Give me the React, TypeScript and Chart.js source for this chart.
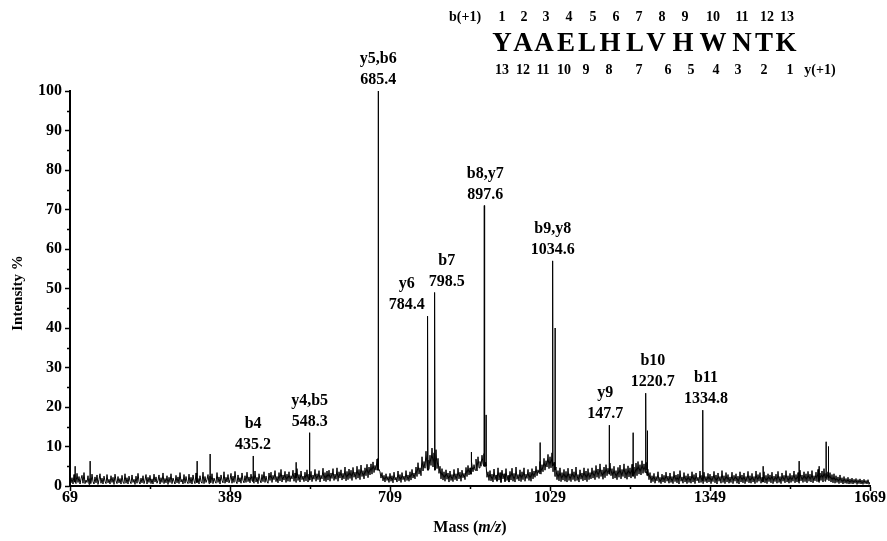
import React, { useEffect, useRef } from "react";
import { Chart, registerables } from "chart.js";

Chart.register(...registerables);

// ---------- data ----------
const START_MZ = 69;
const STEP_MZ = 2;

// baseline / noise trace, one value every STEP_MZ from START_MZ (each row = 40 m/z)
const noise = [
  3.6, 0.8, 2.1, 0.5, 2.9, 1.4, 0.6, 3.2, 0.9, 2.4, 0.5, 1.8, 2.7, 0.7, 3.4, 0.6, 1.5, 0.9, 2.6, 0.4,
  1.9, 0.6, 3.0, 1.1, 0.5, 2.3, 0.8, 2.8, 0.4, 1.6, 3.1, 0.7, 2.0, 0.5, 2.5, 1.2, 0.6, 2.9, 0.8, 1.7,
  0.5, 2.6, 0.9, 2.2, 0.4, 3.0, 1.3, 0.6, 2.4, 0.8, 1.9, 0.5, 2.7, 1.0, 0.6, 3.1, 0.7, 2.1, 0.5, 2.5,
  1.2, 0.6, 2.8, 0.9, 1.7, 0.4, 2.5, 0.7, 3.2, 1.1, 0.5, 2.0, 0.8, 2.6, 0.6, 1.5, 2.9, 0.5, 2.2, 0.9,
  2.7, 0.6, 1.8, 0.5, 3.0, 1.0, 2.3, 0.7, 1.4, 2.8, 0.5, 2.1, 0.9, 3.3, 0.6, 1.9, 0.8, 2.6, 0.4, 2.2,
  0.9, 3.1, 0.6, 2.0, 1.2, 0.5, 2.7, 0.8, 2.3, 0.6, 3.4, 1.0, 1.7, 0.5, 2.9, 0.7, 2.4, 1.1, 0.6, 3.0,
  0.7, 2.2, 0.5, 2.8, 1.3, 0.6, 3.3, 0.9, 1.9, 0.5, 2.6, 1.1, 0.7, 3.5, 0.6, 2.4, 0.9, 1.6, 2.9, 0.6,
  2.5, 0.8, 3.1, 0.6, 2.0, 1.2, 0.7, 3.4, 0.9, 2.3, 0.5, 2.8, 1.4, 0.8, 3.6, 0.7, 2.2, 1.0, 2.9, 0.8,
  1.6, 3.2, 0.7, 2.5, 0.9, 3.7, 1.2, 0.6, 2.8, 1.0, 2.1, 0.7, 3.3, 1.4, 0.8, 2.6, 0.9, 3.5, 1.1, 2.3,
  0.8, 3.0, 1.3, 2.4, 0.7, 3.8, 1.0, 2.2, 0.6, 3.1, 1.5, 0.8, 2.9, 1.1, 3.6, 0.9, 2.5, 1.2, 0.7, 3.3,
  1.4, 3.5, 0.9, 2.7, 1.6, 3.9, 1.1, 2.4, 0.8, 3.4, 1.3, 4.2, 1.0, 2.8, 1.5, 3.7, 0.9, 3.0, 1.2, 3.6,
  1.1, 2.6, 1.8, 4.0, 1.2, 3.3, 0.9, 4.4, 1.4, 2.9, 1.0, 3.8, 1.6, 2.5, 1.1, 3.5, 1.3, 4.1, 1.0, 3.0,
  1.5, 3.7, 1.1, 2.8, 1.7, 4.2, 1.2, 3.1, 1.6, 3.9, 1.0, 2.7, 1.8, 4.5, 1.3, 3.4, 1.1, 3.8, 1.5, 4.0,
  1.2, 3.3, 1.9, 4.4, 1.4, 3.0, 1.7, 4.6, 1.2, 3.6, 2.0, 4.1, 1.5, 3.2, 1.8, 4.8, 1.3, 3.7, 1.6, 4.3,
  1.9, 4.0, 1.4, 4.7, 2.2, 3.5, 1.7, 5.0, 2.0, 4.2, 1.6, 5.3, 2.4, 3.9, 1.8, 4.6, 2.6, 5.5, 2.1, 4.8,
  2.8, 5.6, 3.0, 6.1, 3.4, 5.2, 4.0, 6.8, 7.0, 4.2, 3.6, 2.0, 3.4, 1.3, 2.7, 1.0, 3.1, 1.4, 2.4, 0.9,
  3.2, 1.2, 2.6, 0.8, 3.5, 1.5, 2.2, 1.0, 3.8, 1.3, 2.9, 0.9, 3.4, 1.6, 2.5, 1.1, 3.9, 1.4, 2.8, 1.2,
  3.6, 1.5, 4.2, 2.0, 3.3, 1.8, 4.8, 2.4, 5.9, 3.0, 4.6, 2.6, 7.4, 3.8, 6.2, 4.5, 8.8, 5.0, 6.6, 4.2,
  7.8, 5.2, 9.6, 4.8, 8.4, 6.0, 9.2, 4.4, 7.0, 3.2, 5.0, 1.8, 4.4, 1.5, 3.6, 1.2, 4.1, 1.7, 3.3, 1.0,
  3.8, 1.4, 2.9, 1.1, 4.2, 1.6, 3.1, 1.3, 4.5, 1.8, 3.5, 1.2, 4.0, 2.1, 3.2, 1.6, 4.7, 2.4, 5.2, 2.8,
  4.6, 3.0, 6.2, 3.6, 5.4, 4.0, 6.8, 3.8, 7.4, 4.6, 6.2, 5.0, 7.8, 5.6, 8.2, 6.0, 5.4, 2.2, 3.6, 1.4,
  3.9, 1.3, 3.0, 1.0, 4.3, 1.6, 2.8, 1.2, 4.6, 1.5, 3.4, 0.9, 4.0, 1.8, 3.1, 1.1, 4.4, 1.4, 2.7, 1.0,
  3.7, 1.5, 4.5, 1.2, 3.2, 1.0, 4.8, 1.7, 2.9, 1.3, 4.1, 1.1, 3.6, 1.6, 4.6, 1.2, 3.0, 1.9, 4.2, 1.4,
  3.5, 1.2, 4.4, 1.8, 3.8, 2.2, 5.0, 2.6, 4.1, 3.2, 6.2, 3.0, 5.4, 3.6, 7.0, 4.0, 6.4, 4.8, 8.0, 4.4,
  7.4, 4.6, 8.4, 3.6, 6.0, 2.4, 4.8, 1.6, 3.9, 1.3, 4.6, 1.1, 3.4, 1.5, 4.2, 1.2, 3.7, 1.0, 4.5, 1.4,
  3.1, 1.1, 4.3, 1.6, 3.6, 1.2, 4.8, 1.4, 2.9, 1.0, 4.1, 1.7, 3.3, 1.3, 4.6, 1.5, 3.8, 1.1, 4.4, 1.6,
  3.4, 1.8, 4.6, 2.0, 3.9, 1.6, 5.2, 2.2, 4.3, 1.9, 5.6, 2.4, 4.1, 1.7, 4.8, 2.1, 5.4, 2.6, 4.5, 3.0,
  5.8, 2.6, 4.4, 1.8, 5.0, 2.0, 3.9, 1.6, 4.7, 2.2, 5.3, 1.8, 4.2, 2.4, 5.6, 2.0, 4.4, 1.7, 5.1, 2.3,
  4.6, 2.0, 5.5, 2.4, 4.8, 1.9, 5.8, 2.6, 6.2, 3.0, 5.4, 2.8, 6.4, 3.2, 5.6, 3.4, 6.0, 2.6, 4.2, 1.6,
  3.4, 0.8, 2.6, 1.1, 3.2, 0.7, 2.4, 1.3, 3.6, 0.9, 2.2, 0.6, 3.0, 1.0, 2.7, 0.8, 3.5, 1.2, 2.5, 0.7,
  3.3, 0.9, 2.4, 0.6, 3.7, 1.1, 2.8, 0.8, 3.0, 0.5, 3.9, 1.2, 2.3, 0.7, 3.4, 1.0, 2.6, 0.6, 3.1, 0.9,
  2.5, 0.7, 3.6, 1.0, 2.9, 0.6, 3.3, 1.3, 2.2, 0.8, 3.8, 0.9, 2.7, 0.6, 3.5, 1.1, 2.4, 0.8, 3.2, 1.0,
  3.0, 0.6, 2.5, 1.1, 3.7, 0.8, 2.8, 0.5, 3.3, 1.2, 2.4, 0.7, 3.9, 0.9, 2.6, 0.6, 3.4, 1.0, 2.9, 0.7,
  2.3, 0.9, 3.5, 0.6, 2.7, 1.2, 3.1, 0.7, 2.5, 0.5, 3.6, 1.0, 2.8, 0.8, 3.3, 0.6, 2.4, 1.1, 3.7, 0.8,
  2.6, 0.7, 3.2, 1.0, 2.4, 0.6, 3.8, 0.9, 2.9, 1.2, 3.4, 0.7, 2.2, 1.0, 3.6, 0.8, 2.7, 0.6, 3.1, 1.1,
  2.8, 0.8, 3.5, 0.6, 2.5, 1.1, 3.0, 0.7, 3.7, 0.9, 2.4, 0.6, 3.3, 1.2, 2.7, 0.8, 3.9, 1.0, 2.6, 0.7,
  3.2, 0.9, 2.7, 1.2, 3.8, 0.8, 2.9, 1.0, 3.4, 0.7, 4.0, 1.3, 2.8, 0.9, 3.6, 1.1, 3.1, 0.8, 3.7, 1.2,
  3.0, 1.0, 3.9, 0.8, 2.6, 1.3, 3.5, 1.1, 4.2, 0.9, 3.3, 1.4, 3.8, 1.0, 4.4, 1.2, 3.2, 1.6, 3.6, 1.3,
  3.4, 1.0, 2.9, 0.8, 3.1, 0.7, 2.6, 0.9, 2.3, 0.6, 2.8, 0.8, 2.1, 0.5, 2.4, 0.7, 1.9, 0.6, 2.2, 0.5,
  1.8, 0.6, 2.0, 0.5, 1.7, 0.7, 1.9, 0.4, 1.6, 0.6, 1.8, 0.5, 1.5, 0.4, 1.7, 0.6, 1.4, 0.5, 1.6, 0.4,
  1.0,
];

// discrete peaks (m/z, intensity %, foot level)
const peakMz = [79, 109, 323, 349, 435.2, 521, 548.3, 685.4, 784.4, 798.5, 871, 897.6, 901, 1009, 1034.6, 1039, 1147.7, 1195, 1220.7, 1224, 1334.8, 1455, 1527, 1567, 1581, 1586];
const peakInt = [5, 6.3, 6.3, 8.1, 7.6, 6, 13.5, 100, 43, 49, 8.6, 71, 18, 11, 57, 40, 15.4, 13.5, 23.5, 14, 19.2, 5, 6.3, 5, 11.2, 10];
const peakFoot = [1.0, 0.8, 0.9, 1.0, 1.2, 2.0, 1.5, 4.0, 4.0, 4.0, 3.0, 5.0, 5.0, 3.5, 5.0, 4.0, 3.0, 2.5, 4.0, 4.0, 1.2, 1.0, 1.2, 1.2, 2.0, 2.0];

// annotated fragment ions
const labelIon = ["y5,b6", "y6", "b7", "b8,y7", "b9,y8", "y4,b5", "b4", "y9", "b10", "b11"];
const labelMass = ["685.4", "784.4", "798.5", "897.6", "1034.6", "548.3", "435.2", "147.7", "1220.7", "1334.8"];
const labelPeakMz = [685.4, 784.4, 798.5, 897.6, 1034.6, 548.3, 435.2, 1147.7, 1220.7, 1334.8];
const labelPeakInt = [100, 43, 49, 71, 57, 13.5, 7.6, 15.4, 23.5, 19.2];

// sequence header
const bRowLabels = ["1", "2", "3", "4", "5", "6", "7", "8", "9", "10", "11", "12", "13"];
const sequence = ["Y", "A", "A", "E", "L", "H", "L", "V", "H", "W", "N", "T", "K"];
const yRowLabels = ["13", "12", "11", "10", "9", "8", "7", "6", "5", "4", "3", "2", "1"];

const xTicks = [69, 389, 709, 1029, 1349, 1669];
const xMinorTicks = [229, 549, 869, 1189, 1509];
const yMinorTicks = [5, 15, 25, 35, 45, 55, 65, 75, 85, 95];

// ---------- layout (pixels) ----------
const labelDx = [0, -21, 12, 1, 0, 0, 0, -4, 7, 3];
const bRowX = [502, 524, 546, 569, 593, 616, 639, 662, 685, 713, 742, 767, 787];
const seqX = [502, 523, 544, 566, 587, 610, 635, 656, 683, 713, 742, 764, 786];
const yRowX = [502, 523, 543, 564, 586, 609, 639, 668, 691, 716, 738, 764, 790];

const SERIF = "'Liberation Serif', 'DejaVu Serif', serif";

export default function App() {
  const ref = useRef<HTMLCanvasElement | null>(null);

  useEffect(() => {
    document.body.style.margin = "0";
    const canvas = ref.current;
    if (!canvas) return;

    const pts: { x: number; y: number }[] = noise.map((v, i) => ({ x: START_MZ + STEP_MZ * i, y: v }));
    peakMz.forEach((m, i) => {
      pts.push({ x: m - 0.6, y: peakFoot[i] });
      pts.push({ x: m, y: peakInt[i] });
      pts.push({ x: m + 0.6, y: peakFoot[i] });
    });
    pts.sort((a, b) => a.x - b.x);

    const annotate = {
      id: "annotate",
      afterDraw(chart: any) {
        const ctx = chart.ctx as CanvasRenderingContext2D;
        const xs = chart.scales.x;
        const ys = chart.scales.y;
        const area = chart.chartArea;
        ctx.save();
        ctx.strokeStyle = "#000";
        ctx.fillStyle = "#000";
        // minor ticks
        ctx.lineWidth = 1.5;
        ctx.beginPath();
        xMinorTicks.forEach((v) => {
          const px = Math.round(xs.getPixelForValue(v)) + 0.5;
          ctx.moveTo(px, area.bottom);
          ctx.lineTo(px, area.bottom + 3);
        });
        yMinorTicks.forEach((v) => {
          const py = Math.round(ys.getPixelForValue(v)) + 0.5;
          ctx.moveTo(area.left, py);
          ctx.lineTo(area.left - 3, py);
        });
        ctx.stroke();

        // peak labels
        ctx.font = `bold 16px ${SERIF}`;
        ctx.textAlign = "center";
        ctx.textBaseline = "middle";
        labelIon.forEach((ion, i) => {
          const px = xs.getPixelForValue(labelPeakMz[i]) + labelDx[i];
          const top = ys.getPixelForValue(labelPeakInt[i]);
          ctx.fillText(ion, px, top - 32);
          ctx.fillText(labelMass[i], px, top - 11);
        });

        // sequence header
        ctx.font = `bold 14px ${SERIF}`;
        ctx.fillText("b(+1)", 465, 17);
        bRowLabels.forEach((t, i) => ctx.fillText(t, bRowX[i], 17));
        yRowLabels.forEach((t, i) => ctx.fillText(t, yRowX[i], 70));
        ctx.fillText("y(+1)", 820, 70);
        ctx.font = `bold 27px ${SERIF}`;
        sequence.forEach((t, i) => ctx.fillText(t, seqX[i], 44));

        // x title with italic m/z
        ctx.textAlign = "left";
        const parts: [string, string][] = [
          ["Mass (", `bold 16px ${SERIF}`],
          ["m/z", `italic bold 16px ${SERIF}`],
          [")", `bold 16px ${SERIF}`],
        ];
        let total = 0;
        parts.forEach(([t, f]) => {
          ctx.font = f;
          total += ctx.measureText(t).width;
        });
        let cx = (area.left + area.right) / 2 - total / 2;
        parts.forEach(([t, f]) => {
          ctx.font = f;
          ctx.fillText(t, cx, 528);
          cx += ctx.measureText(t).width;
        });

        // y title
        ctx.translate(18, 293);
        ctx.rotate(-Math.PI / 2);
        ctx.textAlign = "center";
        ctx.font = `bold 15px ${SERIF}`;
        ctx.fillText("Intensity %", 0, 0);
        ctx.restore();
      },
    };

    const chart = new Chart(canvas, {
      type: "line",
      data: {
        datasets: [
          {
            data: pts,
            borderColor: "#000",
            borderWidth: 1,
            pointRadius: 0,
            tension: 0,
            fill: false,
          },
        ],
      },
      options: {
        animation: false,
        responsive: false,
        devicePixelRatio: 1,
        layout: { padding: { left: 0, right: 17, top: 91, bottom: 0 } },
        plugins: { legend: { display: false }, tooltip: { enabled: false } },
        scales: {
          x: {
            type: "linear",
            min: 69,
            max: 1669,
            afterBuildTicks: (s: any) => {
              s.ticks = xTicks.map((v) => ({ value: v }));
            },
            afterFit: (s: any) => {
              s.height = 55;
            },
            ticks: {
              color: "#000",
              font: { family: SERIF, size: 16, weight: "bold" },
              padding: -3,
              maxRotation: 0,
              autoSkip: false,
              callback: (v: any) => String(v),
            },
            grid: { drawOnChartArea: false, tickLength: 5, tickColor: "#000", tickWidth: 1.5 },
            border: { color: "#000", width: 2 },
          },
          y: {
            min: 0,
            max: 100,
            ticks: {
              stepSize: 10,
              color: "#000",
              font: { family: SERIF, size: 16, weight: "bold" },
              padding: 3,
            },
            afterFit: (s: any) => {
              s.width = 70;
            },
            grid: { drawOnChartArea: false, tickLength: 5, tickColor: "#000", tickWidth: 1.5 },
            border: { color: "#000", width: 2 },
          },
        },
      },
      plugins: [annotate],
    });

    return () => chart.destroy();
  }, []);

  return <canvas ref={ref} width={887} height={541} style={{ display: "block" }} />;
}
